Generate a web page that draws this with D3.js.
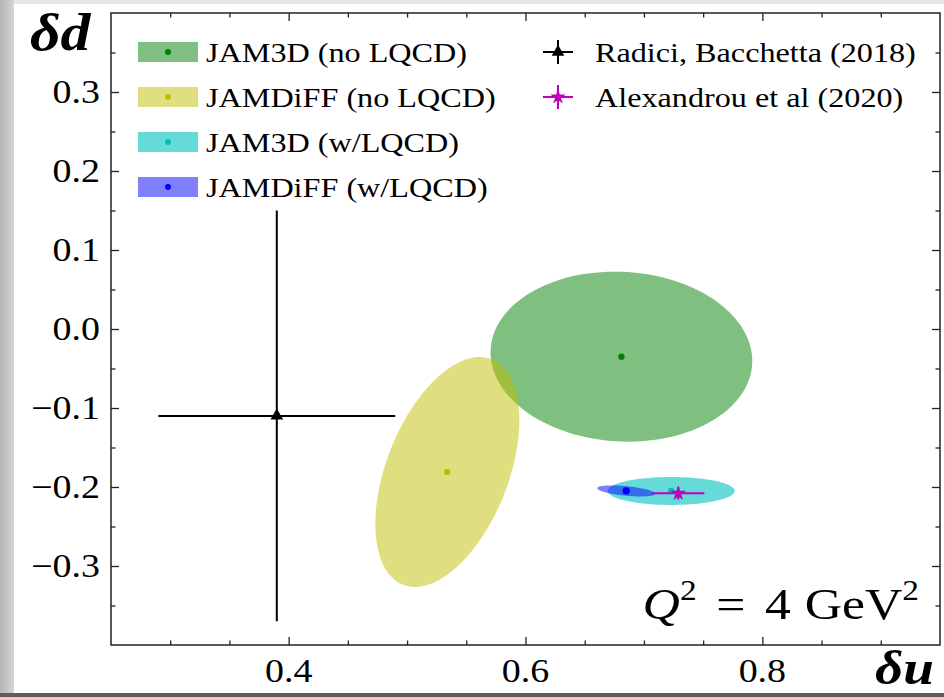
<!DOCTYPE html>
<html>
<head>
<meta charset="utf-8">
<script src="https://cdn.jsdelivr.net/npm/d3@7"></script>
<style>
  body { margin: 0; background: #fff; }
  svg { display: block; }
</style>
</head>
<body>
<script>
var W = 944, H = 697;
var serif = "'Liberation Serif', 'Times New Roman', serif";
var sx = 1.15; // the figure is stretched a bit wider than its fonts

// fits: centre, half-width in du, half-height in dd, correlation
var fits = ["JAM3D (no LQCD)", "JAMDiFF (no LQCD)", "JAM3D (w/LQCD)", "JAMDiFF (w/LQCD)"];
var fitColors = ["#008000", "#bfbf00", "#00bfbf", "#0000ff"];
var fitAlpha = [0.5, 0.5, 0.6, 0.5];
var fitU = [0.681, 0.534, 0.723, 0.685];
var fitD = [-0.035, -0.181, -0.205, -0.205];
var fitSu = [0.1105, 0.0608, 0.0536, 0.0245];
var fitSd = [0.1076, 0.1456, 0.0177, 0.007];
var fitRho = [-0.05, 0.45, 0.0, -0.5];

// points with error bars
var refs = ["Radici, Bacchetta (2018)", "Alexandrou et al (2020)"];
var refColors = ["#000000", "#bf00bf"];
var refU = [0.39, 0.729];
var refUerr = [0.10, 0.022];
var refD = [-0.11, -0.208];
var refDerr = [0.26, 0.008];

var xMajor = [0.4, 0.6, 0.8];
var xMinor = [0.3, 0.35, 0.45, 0.5, 0.55, 0.65, 0.7, 0.75, 0.85, 0.9];
var yMajor = [-0.3, -0.2, -0.1, 0.0, 0.1, 0.2, 0.3];
var yMinor = [-0.35, -0.25, -0.15, -0.05, 0.05, 0.15, 0.25, 0.35];

var margin = { top: 13, right: 4, bottom: 52, left: 111 },
  width = W - margin.left - margin.right,
  height = H - margin.top - margin.bottom;

var svg = d3.select("body").append("svg")
  .attr("width", W)
  .attr("height", H);

// screenshot frame: grey strips round a white page
var defs = svg.append("defs");
var grad = defs.append("linearGradient").attr("id", "shade");
grad.append("stop").attr("offset", "0%").attr("stop-color", "#b4b4b4");
grad.append("stop").attr("offset", "100%").attr("stop-color", "#d6d6d6");
defs.append("clipPath").attr("id", "plotclip")
  .append("rect").attr("width", width).attr("height", height);

svg.append("rect").attr("width", W).attr("height", H).attr("fill", "#e6e6e6");
svg.append("rect").attr("width", 14).attr("height", H).attr("fill", "url(#shade)");
svg.append("rect").attr("x", 14).attr("y", 4).attr("width", W - 14).attr("height", 689).attr("fill", "#fff");
svg.append("rect").attr("y", 693).attr("width", W).attr("height", 4).attr("fill", "#5e5e5e");

var g = svg.append("g")
  .attr("transform", "translate(" + margin.left + "," + margin.top + ")");

var x = d3.scaleLinear().domain([0.25, 0.95]).range([0, width]);
var y = d3.scaleLinear().domain([-0.4, 0.4]).range([height, 0]);

var plot = g.append("g").attr("clip-path", "url(#plotclip)");

// ellipses with their central values
var steps = d3.range(0, 121).map(function (i) { return i / 120 * 2 * Math.PI; });
fits.forEach(function (name, i) {
  var r = Math.sqrt(1 - fitRho[i] * fitRho[i]);
  var line = d3.line()
    .x(function (t) { return x(fitU[i] + fitSu[i] * Math.cos(t)); })
    .y(function (t) { return y(fitD[i] + fitSd[i] * (fitRho[i] * Math.cos(t) + r * Math.sin(t))); })
    .curve(d3.curveLinearClosed);
  plot.append("path")
    .attr("d", line(steps))
    .attr("fill", fitColors[i])
    .attr("fill-opacity", fitAlpha[i]);
  plot.append("circle")
    .attr("cx", x(fitU[i]))
    .attr("cy", y(fitD[i]))
    .attr("r", i == 3 ? 3.6 : 3.2)
    .attr("fill", fitColors[i]);
});

// error bars
var markers = [d3.symbol().type(d3.symbolTriangle).size(70), d3.symbol().type(d3.symbolStar).size(75)];
refs.forEach(function (name, i) {
  var c = refColors[i];
  plot.append("line")
    .attr("x1", x(refU[i] - refUerr[i])).attr("x2", x(refU[i] + refUerr[i]))
    .attr("y1", y(refD[i])).attr("y2", y(refD[i]))
    .attr("stroke", c).attr("stroke-width", 2);
  plot.append("line")
    .attr("x1", x(refU[i])).attr("x2", x(refU[i]))
    .attr("y1", y(refD[i] - refDerr[i])).attr("y2", y(refD[i] + refDerr[i]))
    .attr("stroke", c).attr("stroke-width", 2);
  plot.append("path")
    .attr("d", markers[i]())
    .attr("transform", "translate(" + x(refU[i]) + "," + y(refD[i]) + ")")
    .attr("fill", c);
});

// ticks on all four sides, pointing in
function ticks(axis, vals, size, tr) {
  var a = g.append("g").attr("transform", tr)
    .call(axis.tickValues(vals).tickSize(-size).tickFormat(""));
  a.select(".domain").remove();
  a.selectAll("line").attr("stroke", "#222").attr("stroke-width", 1.3);
}
ticks(d3.axisBottom(x), xMajor, 8, "translate(0," + height + ")");
ticks(d3.axisBottom(x), xMinor, 4.5, "translate(0," + height + ")");
ticks(d3.axisTop(x), xMajor, 8, "translate(0,0)");
ticks(d3.axisTop(x), xMinor, 4.5, "translate(0,0)");
ticks(d3.axisLeft(y), yMajor, 8, "translate(0,0)");
ticks(d3.axisLeft(y), yMinor, 4.5, "translate(0,0)");
ticks(d3.axisRight(y), yMajor, 8, "translate(" + width + ",0)");
ticks(d3.axisRight(y), yMinor, 4.5, "translate(" + width + ",0)");

g.append("rect")
  .attr("width", width).attr("height", height)
  .attr("fill", "none").attr("stroke", "#222").attr("stroke-width", 1.5);

var fmt = function (v) { return d3.format(".1f")(v).replace("-", "\u2212"); };

g.selectAll(".xlab").data(xMajor).enter().append("text")
  .attr("class", "xlab")
  .attr("transform", function (v) { return "translate(" + x(v) + "," + (height + 37) + ") scale(" + sx + ",1)"; })
  .attr("text-anchor", "middle")
  .style("font-family", serif).style("font-size", "33px")
  .text(fmt);

g.selectAll(".ylab").data(yMajor).enter().append("text")
  .attr("class", "ylab")
  .attr("transform", function (v) { return "translate(-11," + (y(v) + 11) + ") scale(" + sx + ",1)"; })
  .attr("text-anchor", "end")
  .style("font-family", serif).style("font-size", "33px")
  .text(fmt);

// axis titles
svg.append("text")
  .attr("transform", "translate(30,50) scale(" + sx + ",1)")
  .style("font-family", serif).style("font-size", "52px")
  .style("font-weight", "bold").style("font-style", "italic")
  .text("\u03b4d");
svg.append("text")
  .attr("transform", "translate(934,684) scale(" + sx + ",1)")
  .attr("text-anchor", "end")
  .style("font-family", serif).style("font-size", "48px")
  .style("font-weight", "bold").style("font-style", "italic")
  .text("\u03b4u");

// Q^2 note
var q = svg.append("text")
  .attr("transform", "translate(919,619) scale(" + sx + ",1)")
  .attr("text-anchor", "end")
  .style("font-family", serif).style("font-size", "45px");
q.append("tspan").style("font-style", "italic").text("Q");
q.append("tspan").attr("dy", -19).style("font-size", "29px").text("2");
q.append("tspan").attr("dy", 19).attr("dx", 17).text("=");
q.append("tspan").attr("dx", 17).text("4");
q.append("tspan").attr("dx", 12).text("GeV");
q.append("tspan").attr("dy", -19).style("font-size", "29px").text("2");

// legend
var leg = svg.append("g");
fits.forEach(function (name, i) {
  var cy = 52 + i * 45;
  leg.append("rect")
    .attr("x", 138).attr("y", cy - 10).attr("width", 60).attr("height", 20)
    .attr("fill", fitColors[i]).attr("fill-opacity", fitAlpha[i]);
  leg.append("circle").attr("cx", 168).attr("cy", cy).attr("r", 3).attr("fill", fitColors[i]);
  leg.append("text")
    .attr("transform", "translate(206," + (cy + 10) + ") scale(" + sx + ",1)")
    .style("font-family", serif).style("font-size", "28px")
    .text(name);
});
refs.forEach(function (name, i) {
  var cy = 52 + i * 45;
  leg.append("line").attr("x1", 543).attr("x2", 573).attr("y1", cy).attr("y2", cy)
    .attr("stroke", refColors[i]).attr("stroke-width", 2);
  leg.append("line").attr("x1", 558).attr("x2", 558).attr("y1", cy - 12).attr("y2", cy + 12)
    .attr("stroke", refColors[i]).attr("stroke-width", 2);
  leg.append("path").attr("d", markers[i]())
    .attr("transform", "translate(558," + cy + ")").attr("fill", refColors[i]);
  leg.append("text")
    .attr("transform", "translate(595," + (cy + 10) + ") scale(" + sx + ",1)")
    .style("font-family", serif).style("font-size", "28px")
    .text(name);
});
</script>
</body>
</html>
